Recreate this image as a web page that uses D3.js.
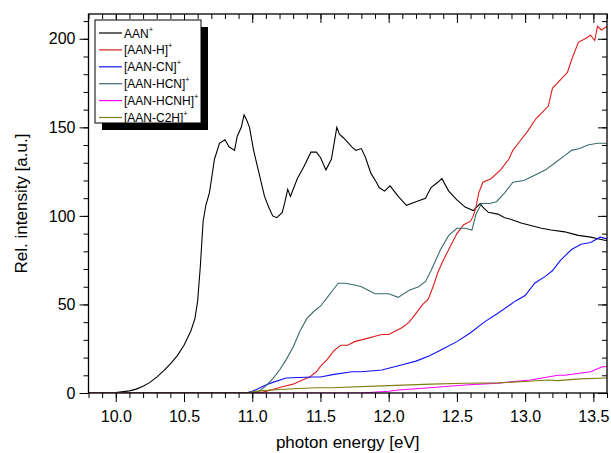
<!DOCTYPE html>
<html><head><meta charset="utf-8">
<script src="https://cdn.jsdelivr.net/npm/d3@7"></script>
<style>body{margin:0;background:#fff}svg{display:block}text{font-family:"Liberation Sans",Arial,sans-serif}</style>
</head><body>
<svg id="c" width="611" height="453"></svg>
<script>
const xTicks = [10.0, 10.5, 11.0, 11.5, 12.0, 12.5, 13.0, 13.5];
const yTicks = [0, 50, 100, 150, 200];
const seriesNames = ["AAN", "[AAN-H]", "[AAN-CN]", "[AAN-HCN]", "[AAN-HCNH]", "[AAN-C2H]"];
const seriesColors = ["#000000", "#dd1c1c", "#1010ff", "#3a6b6b", "#ff00ff", "#7f7f10"];

const aan = [[9.8,0],[9.9,0],[10.0,0.3],[10.1,1.2],[10.15,2.2],[10.2,3.8],[10.25,6],[10.3,9],[10.35,12.5],[10.4,16.5],[10.45,21],[10.5,27],[10.55,35],[10.58,42],[10.6,52],[10.62,72],[10.64,97],[10.66,106],[10.686,113],[10.7,120],[10.723,132],[10.76,141],[10.8,143],[10.83,139],[10.87,137],[10.89,145],[10.92,150],[10.94,157],[10.96,154],[10.98,150],[11.01,137],[11.05,124],[11.09,111],[11.12,105],[11.15,100],[11.18,99],[11.22,102],[11.24,108],[11.26,115],[11.28,111],[11.33,121],[11.38,128],[11.43,136],[11.47,136],[11.5,133],[11.54,126],[11.58,132],[11.62,150],[11.64,146],[11.67,144],[11.73,139],[11.76,137],[11.8,138],[11.83,133],[11.87,124],[11.91,119],[11.93,116],[11.97,114],[12.01,117],[12.07,111],[12.13,106],[12.2,108],[12.27,110],[12.31,116],[12.36,119],[12.39,121],[12.44,114],[12.5,109],[12.56,105],[12.62,103],[12.67,107],[12.69,105],[12.73,102],[12.8,101],[12.85,99],[12.9,98],[12.97,96],[13.07,94],[13.12,93],[13.19,92],[13.29,91],[13.34,90],[13.39,89],[13.48,88],[13.54,87],[13.6,86]];
const aanH = [[9.8,0],[11.0,0],[11.08,0.5],[11.15,2],[11.22,3.5],[11.3,5],[11.36,7],[11.42,9],[11.47,12],[11.5,15],[11.55,19],[11.6,24],[11.65,27],[11.7,27],[11.75,29],[11.8,30],[11.85,31],[11.9,32],[11.95,33],[12.0,33],[12.05,35],[12.1,37],[12.15,40],[12.2,45],[12.25,50],[12.29,53],[12.33,61],[12.36,68],[12.4,75],[12.44,81],[12.5,90],[12.55,95],[12.6,97],[12.62,100],[12.64,105],[12.66,113],[12.69,119],[12.75,121],[12.82,126],[12.88,132],[12.91,137],[12.96,142],[13.02,148],[13.08,155],[13.12,158],[13.17,162],[13.2,172],[13.26,177],[13.31,181],[13.34,188],[13.39,198],[13.44,200],[13.48,202],[13.51,199],[13.53,207],[13.56,205],[13.6,207]];
const aanCN = [[9.8,0],[10.95,0],[11.0,1],[11.03,2],[11.1,4.5],[11.15,6],[11.25,8.5],[11.44,9],[11.5,9],[11.6,10.5],[11.73,12],[11.8,12],[11.95,13],[12.0,14],[12.1,16],[12.2,18],[12.3,21],[12.4,25],[12.5,29],[12.6,34],[12.7,40],[12.8,45],[12.93,52],[13.0,55],[13.07,62],[13.15,66],[13.2,69],[13.26,75],[13.34,81],[13.41,84],[13.48,85],[13.55,88],[13.6,87]];
const aanHCN = [[9.8,0],[11.0,0],[11.05,1],[11.1,4],[11.15,8],[11.2,13],[11.25,19],[11.3,26],[11.35,35],[11.4,42],[11.45,46],[11.5,49],[11.55,54],[11.6,59],[11.63,62],[11.68,62],[11.75,61],[11.8,60],[11.85,58],[11.9,56],[11.95,56],[12.0,56],[12.07,54],[12.15,58],[12.22,60],[12.27,63],[12.31,69],[12.38,81],[12.44,89],[12.5,93],[12.56,93],[12.61,92],[12.64,101],[12.68,107],[12.74,107],[12.79,108],[12.85,113],[12.91,119],[12.99,120],[13.07,123],[13.15,126],[13.22,130],[13.29,134],[13.34,137],[13.4,138],[13.46,140],[13.53,141],[13.6,141]];
const aanHCNH = [[9.8,0],[11.8,0],[12.0,1],[12.07,1.7],[12.3,3],[12.56,4.5],[12.8,5.6],[13.04,7.3],[13.24,10],[13.29,10],[13.48,12],[13.56,14.7],[13.6,15]];
const aanC2H = [[9.8,0],[10.95,0],[11.05,1.2],[11.2,2],[11.34,2.5],[11.47,3],[11.58,3],[11.95,4],[12.31,5],[12.56,5.5],[12.8,5.7],[13.0,6.5],[13.17,7.3],[13.24,7],[13.4,8],[13.6,8.5]];
const seriesData = [aan, aanH, aanCN, aanHCN, aanHCNH, aanC2H];

const svg = d3.select("#c");
const L = 88.5, R = 607, T = 14, B = 393;
const x = d3.scaleLinear().domain([9.8, 13.6]).range([L, R]);
const y = d3.scaleLinear().domain([0, 214]).range([B, T]);

const xMinor = d3.range(98, 137).map(d => d / 10);
const yMinor = d3.range(0, 215, 10);

function axisG(axis, tx, ty) {
  const g = svg.append("g").attr("transform", `translate(${tx},${ty})`).call(axis);
  g.select(".domain").remove();
  g.selectAll("line").attr("stroke", "#000").attr("stroke-width", 1);
  return g;
}
// minor ticks
axisG(d3.axisBottom(x).tickValues(xMinor).tickSize(5).tickFormat(""), 0, B);
axisG(d3.axisTop(x).tickValues(xMinor).tickSize(-5).tickFormat(""), 0, T);
axisG(d3.axisLeft(y).tickValues(yMinor).tickSize(5).tickFormat(""), L, 0);
axisG(d3.axisRight(y).tickValues(yMinor).tickSize(-5).tickFormat(""), R, 0);
// major ticks
const xb = axisG(d3.axisBottom(x).tickValues(xTicks).tickSize(9).tickPadding(9).tickFormat(d3.format(".1f")), 0, B);
xb.selectAll("text").attr("font-size", 16).attr("fill", "#000").attr("font-family", "Liberation Sans, Arial, sans-serif");
axisG(d3.axisTop(x).tickValues(xTicks).tickSize(-9).tickFormat(""), 0, T);
const yl = axisG(d3.axisLeft(y).tickValues(yTicks).tickSize(9).tickPadding(4).tickFormat(d3.format("d")), L, 0);
yl.selectAll("text").attr("font-size", 16).attr("fill", "#000").attr("font-family", "Liberation Sans, Arial, sans-serif");
axisG(d3.axisRight(y).tickValues(yTicks).tickSize(-9).tickFormat(""), R, 0);

// series
const line = d3.line().x(d => x(d[0])).y(d => y(d[1]));
svg.append("defs").append("clipPath").attr("id", "clip").append("rect")
  .attr("x", L).attr("y", T).attr("width", R - L).attr("height", B - T);
seriesData.forEach((data, i) => {
  svg.append("path").datum(data).attr("d", line)
    .attr("fill", "none").attr("stroke", seriesColors[i]).attr("stroke-width", 1.1)
    .attr("clip-path", "url(#clip)");
});

// frame
svg.append("rect").attr("x", L).attr("y", T).attr("width", R - L).attr("height", B - T)
  .attr("fill", "none").attr("stroke", "#000").attr("stroke-width", 1.3);

// axis titles
svg.append("text").attr("x", (L + R) / 2).attr("y", 448).attr("text-anchor", "middle")
  .attr("font-size", 17).text("photon energy [eV]");
svg.append("text").attr("transform", `translate(27,${(T + B) / 2}) rotate(-90)`).attr("text-anchor", "middle")
  .attr("font-size", 17).text("Rel. intensity [a.u.]");

// legend
const lx = 95, ly = 20, lw = 106, lh = 103;
svg.append("rect").attr("x", lx + 7).attr("y", ly + 7).attr("width", lw).attr("height", lh).attr("fill", "#000");
svg.append("rect").attr("x", lx).attr("y", ly).attr("width", lw).attr("height", lh).attr("fill", "#fff")
  .attr("stroke", "#000").attr("stroke-width", 1);
seriesNames.forEach((n, i) => {
  const yy = ly + 13 + i * 16.9;
  svg.append("line").attr("x1", lx + 4).attr("x2", lx + 27).attr("y1", yy).attr("y2", yy)
    .attr("stroke", seriesColors[i]).attr("stroke-width", 1.2);
  const t = svg.append("text").attr("x", lx + 29).attr("y", yy + 4.5).attr("font-size", 12).attr("fill", "#000");
  t.append("tspan").text(n);
  t.append("tspan").attr("font-size", 7.5).attr("dy", -6).text("+");
});
</script>
</body></html>
